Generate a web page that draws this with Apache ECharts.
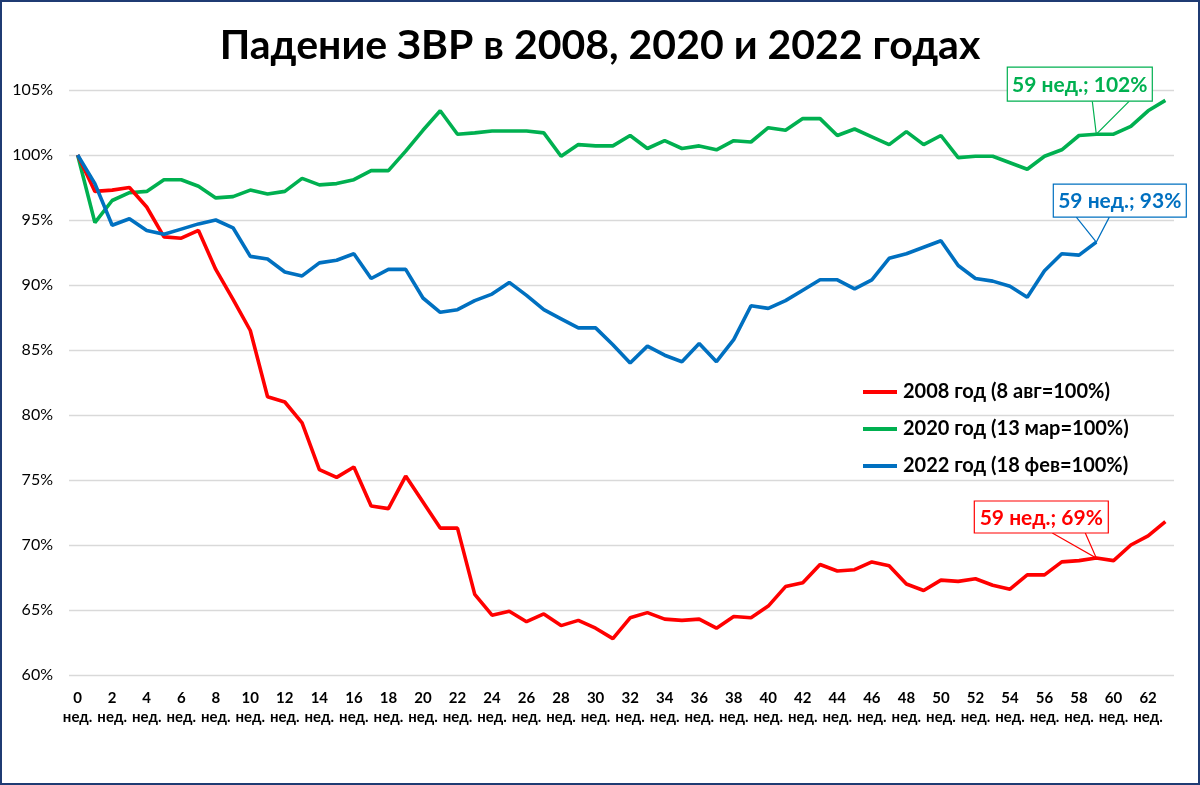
<!DOCTYPE html>
<html>
<head>
<meta charset="utf-8">
<script src="https://cdn.jsdelivr.net/npm/echarts@6/dist/echarts.min.js"></script>
<style>
html,body{margin:0;padding:0;background:#fff;}
#chart{width:1200px;height:785px;}
</style>
</head>
<body>
<div id="chart"></div>
<script>
const titleText = 'Падение ЗВР в 2008, 2020 и 2022 годах';
const weeks = Array.from({length: 64}, (_, i) => i);
const weekUnit = 'нед.';
const seriesNames = ['2008 год (8 авг=100%)', '2020 год (13 мар=100%)', '2022 год (18 фев=100%)'];
const seriesColors = ['#FF0000', '#00B050', '#0070C0'];

const data2008 = [100, 97.2, 97.3, 97.5, 96.0, 93.7, 93.6, 94.2, 91.2, 88.9,
  86.5, 81.4, 81.0, 79.4, 75.8, 75.2, 76.0, 73.0, 72.8, 75.3,
  73.3, 71.3, 71.3, 66.2, 64.6, 64.9, 64.1, 64.7, 63.8, 64.2,
  63.6, 62.8, 64.4, 64.8, 64.3, 64.2, 64.3, 63.6, 64.5, 64.4,
  65.3, 66.8, 67.1, 68.5, 68.0, 68.1, 68.7, 68.4, 67.0, 66.5,
  67.3, 67.2, 67.4, 66.9, 66.6, 67.7, 67.7, 68.7, 68.8, 69.0,
  68.8, 70.0, 70.7, 71.8];

const data2020 = [100, 94.8, 96.5, 97.1, 97.2, 98.1, 98.1, 97.6, 96.7, 96.8,
  97.3, 97.0, 97.2, 98.2, 97.7, 97.8, 98.1, 98.8, 98.8, 100.3,
  101.9, 103.4, 101.6, 101.7, 101.85, 101.85, 101.85, 101.7, 99.9, 100.8,
  100.7, 100.7, 101.5, 100.5, 101.1, 100.5, 100.7, 100.4, 101.1, 101.0,
  102.1, 101.9, 102.8, 102.8, 101.5, 102.0, 101.4, 100.8, 101.8, 100.8,
  101.5, 99.8, 99.9, 99.9, 99.4, 98.9, 99.9, 100.4, 101.5, 101.6,
  101.6, 102.2, 103.4, 104.2];

const data2022 = [100, 97.8, 94.6, 95.1, 94.2, 93.9, 94.3, 94.7, 95.0, 94.4,
  92.2, 92.0, 91.0, 90.7, 91.7, 91.9, 92.4, 90.5, 91.2, 91.2,
  89.0, 87.9, 88.1, 88.8, 89.3, 90.2, 89.2, 88.1, 87.4, 86.7,
  86.7, 85.4, 84.0, 85.3, 84.6, 84.1, 85.5, 84.1, 85.8, 88.4,
  88.2, 88.8, 89.6, 90.4, 90.4, 89.7, 90.4, 92.05, 92.4, 92.9,
  93.4, 91.5, 90.5, 90.3, 89.9, 89.05, 91.1, 92.4, 92.3, 93.3];

const calloutWeek = 59;
const calloutTexts = ['59 нед.; 69%', '59 нед.; 102%', '59 нед.; 93%'];

const FONT = 'Lato, "Open Sans", "Liberation Sans", sans-serif';
const allData = [data2008, data2020, data2022];

const chart = echarts.init(document.getElementById('chart'));
chart.setOption({
  backgroundColor: '#fff',
  animation: false,
  title: {
    text: titleText,
    left: 'center',
    top: 20,
    textStyle: {fontFamily: FONT, fontSize: 41, fontWeight: 'bold', color: '#000'}
  },
  legend: {
    orient: 'vertical',
    left: 858,
    top: 377,
    icon: 'rect',
    itemWidth: 34,
    itemHeight: 4,
    itemGap: 17,
    data: seriesNames,
    textStyle: {fontFamily: FONT, fontSize: 20, fontWeight: 'bold', color: '#000', padding: [0, 0, 0, 1]}
  },
  grid: {left: 69, right: 26, top: 90, bottom: 110},
  xAxis: {
    type: 'category',
    data: weeks,
    boundaryGap: true,
    axisLine: {show: false},
    axisTick: {show: false},
    axisLabel: {
      interval: 1,
      margin: 14,
      fontFamily: FONT,
      fontSize: 15,
      fontWeight: 'bold',
      color: '#000',
      lineHeight: 19,
      formatter: v => v + '\n' + weekUnit
    }
  },
  yAxis: {
    type: 'value',
    min: 60,
    max: 105,
    interval: 5,
    axisLine: {show: false},
    axisTick: {show: false},
    axisLabel: {
      margin: 16,
      fontFamily: FONT,
      fontSize: 16,
      color: '#000',
      formatter: '{value}%'
    },
    splitLine: {lineStyle: {color: '#D9D9D9', width: 1.3}}
  },
  series: seriesNames.map((name, i) => ({
    name: name,
    type: 'line',
    data: allData[i],
    symbol: 'none',
    smooth: false,
    color: seriesColors[i],
    lineStyle: {width: 3.6, color: seriesColors[i]},
    z: [3, 2, 4][i]
  }))
});

// callout geometry relative to anchor point: box [left, right, top, bottom], tail base [xL, xR]
const calloutGeom = [
  {box: [-122, 12, -57, -25], tail: [-44, -11]},
  {box: [-89, 56, -67, -33], tail: [-4, 33]},
  {box: [-43, 90, -58, -25], tail: [-20, 13]}
];

const graphics = [{
  type: 'rect',
  shape: {x: 1, y: 1, width: 1198, height: 783},
  style: {fill: 'transparent', stroke: '#1F3B73', lineWidth: 2},
  silent: true,
  z: 100
}];

allData.forEach((arr, i) => {
  const p = chart.convertToPixel({seriesIndex: i}, [calloutWeek, arr[calloutWeek]]);
  const g = calloutGeom[i];
  const bl = p[0] + g.box[0], br = p[0] + g.box[1], bt = p[1] + g.box[2], bb = p[1] + g.box[3];
  graphics.push({
    type: 'polyline',
    shape: {points: [[p[0] + g.tail[0], bb], [p[0], p[1]], [p[0] + g.tail[1], bb]]},
    style: {stroke: seriesColors[i], lineWidth: 1.2, fill: null},
    z: 50
  });
  graphics.push({
    type: 'rect',
    shape: {x: bl, y: bt, width: br - bl, height: bb - bt},
    style: {fill: '#fff', stroke: seriesColors[i], lineWidth: 1.2},
    z: 51
  });
  graphics.push({
    type: 'text',
    x: (bl + br) / 2,
    y: (bt + bb) / 2 + 1,
    style: {
      text: calloutTexts[i],
      fill: seriesColors[i],
      font: 'bold 21px ' + FONT,
      textAlign: 'center',
      textVerticalAlign: 'middle',
      align: 'center',
      verticalAlign: 'middle'
    },
    z: 52
  });
});

chart.setOption({graphic: graphics});
</script>
</body>
</html>
